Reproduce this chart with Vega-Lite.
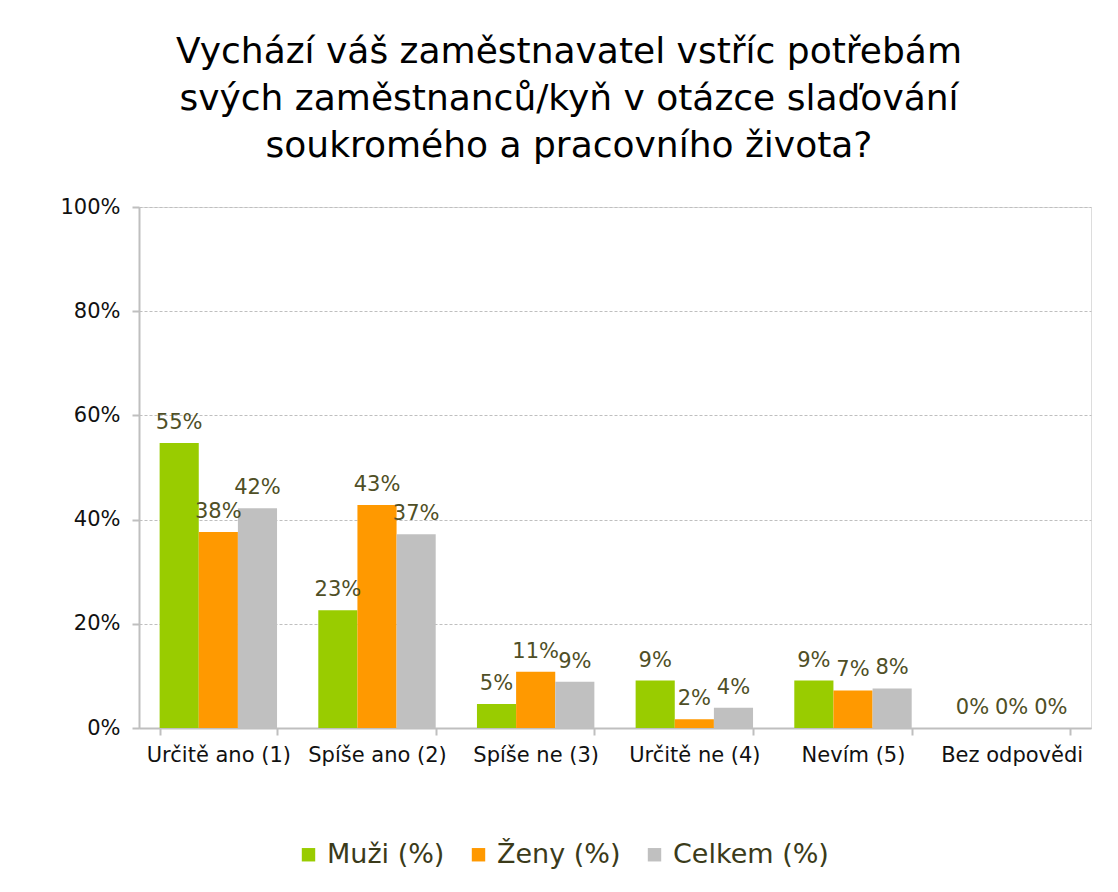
{
  "$schema": "https://vega.github.io/schema/vega-lite/v6.json",
  "width": 952,
  "height": 521,
  "autosize": {"type": "none"},
  "padding": {"left": 139, "top": 207, "right": 27, "bottom": 164},
  "background": "white",
  "title": {
    "text": ["Vychází váš zaměstnavatel vstříc potřebám", "svých zaměstnanců/kyň v otázce slaďování", "soukromého a pracovního života?"],
    "font": "DejaVu Sans",
    "fontSize": 36,
    "fontWeight": "normal",
    "color": "#000000",
    "lineHeight": 47,
    "anchor": "middle",
    "dx": -46,
    "offset": 31
  },
  "data": {
    "values": [
      {"kategorie": "Určitě ano (1)", "skupina": "Muži (%)", "podil": 0.547},
      {"kategorie": "Určitě ano (1)", "skupina": "Ženy (%)", "podil": 0.376},
      {"kategorie": "Určitě ano (1)", "skupina": "Celkem (%)", "podil": 0.422},
      {"kategorie": "Spíše ano (2)", "skupina": "Muži (%)", "podil": 0.226},
      {"kategorie": "Spíše ano (2)", "skupina": "Ženy (%)", "podil": 0.428},
      {"kategorie": "Spíše ano (2)", "skupina": "Celkem (%)", "podil": 0.372},
      {"kategorie": "Spíše ne (3)", "skupina": "Muži (%)", "podil": 0.046},
      {"kategorie": "Spíše ne (3)", "skupina": "Ženy (%)", "podil": 0.108},
      {"kategorie": "Spíše ne (3)", "skupina": "Celkem (%)", "podil": 0.089},
      {"kategorie": "Určitě ne (4)", "skupina": "Muži (%)", "podil": 0.091},
      {"kategorie": "Určitě ne (4)", "skupina": "Ženy (%)", "podil": 0.017},
      {"kategorie": "Určitě ne (4)", "skupina": "Celkem (%)", "podil": 0.039},
      {"kategorie": "Nevím (5)", "skupina": "Muži (%)", "podil": 0.091},
      {"kategorie": "Nevím (5)", "skupina": "Ženy (%)", "podil": 0.072},
      {"kategorie": "Nevím (5)", "skupina": "Celkem (%)", "podil": 0.076},
      {"kategorie": "Bez odpovědi", "skupina": "Muži (%)", "podil": 0},
      {"kategorie": "Bez odpovědi", "skupina": "Ženy (%)", "podil": 0},
      {"kategorie": "Bez odpovědi", "skupina": "Celkem (%)", "podil": 0}
    ]
  },
  "encoding": {
    "x": {
      "field": "kategorie",
      "type": "nominal",
      "sort": null,
      "scale": {"paddingInner": 0.26, "paddingOuter": 0.13},
      "axis": {
        "title": null,
        "labelAngle": 0,
        "labelFont": "DejaVu Sans",
        "labelFontSize": 21,
        "labelColor": "#111111",
        "labelPadding": 9,
        "labelLimit": 300,
        "tickBand": "extent",
        "tickColor": "#bfbfbf",
        "tickSize": 7,
        "tickWidth": 2,
        "domainColor": "#bfbfbf",
        "domainWidth": 2,
        "grid": false
      }
    },
    "xOffset": {
      "field": "skupina",
      "type": "nominal",
      "sort": ["Muži (%)", "Ženy (%)", "Celkem (%)"],
      "scale": {"paddingInner": 0, "paddingOuter": 0}
    },
    "y": {
      "field": "podil",
      "type": "quantitative",
      "scale": {"domain": [0, 1], "nice": false},
      "axis": {
        "title": null,
        "format": ".0%",
        "values": [0, 0.2, 0.4, 0.6, 0.8, 1],
        "labelFont": "DejaVu Sans",
        "labelFontSize": 21,
        "labelColor": "#111111",
        "labelPadding": 12,
        "tickColor": "#bfbfbf",
        "tickSize": 7,
        "tickWidth": 2,
        "domainColor": "#bfbfbf",
        "domainWidth": 2,
        "gridColor": "#bfbfbf",
        "gridDash": [3, 2],
        "gridWidth": 1
      }
    }
  },
  "layer": [
    {
      "mark": {"type": "bar"},
      "encoding": {
        "color": {
          "field": "skupina",
          "type": "nominal",
          "sort": ["Muži (%)", "Ženy (%)", "Celkem (%)"],
          "scale": {"domain": ["Muži (%)", "Ženy (%)", "Celkem (%)"], "range": ["#99cc00", "#ff9900", "#c0c0c0"]},
          "legend": {
            "title": null,
            "orient": "none",
            "direction": "horizontal",
            "legendX": 156,
            "legendY": 634,
            "symbolType": "square",
            "symbolSize": 180,
            "symbolStrokeWidth": 0,
            "labelFont": "DejaVu Sans",
            "labelFontSize": 27,
            "labelColor": "#3b3b1a",
            "labelOffset": 5,
            "labelLimit": 400,
            "columnPadding": 20
          }
        }
      }
    },
    {
      "mark": {"type": "text", "dy": -20, "font": "DejaVu Sans", "fontSize": 21, "color": "#4f4f26"},
      "encoding": {
        "text": {"field": "podil", "type": "quantitative", "format": ".0%"}
      }
    }
  ]
}
